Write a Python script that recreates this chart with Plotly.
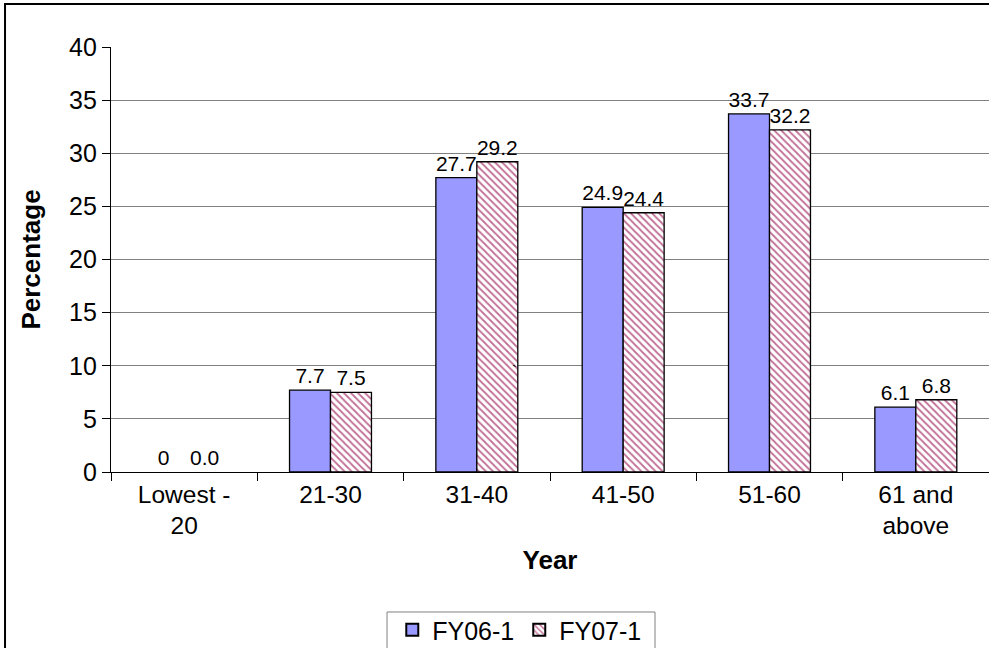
import plotly.graph_objects as go

categories = ["Lowest -<br>20", "21-30", "31-40", "41-50", "51-60", "61 and<br>above"]
fy06 = [0, 7.7, 27.7, 24.9, 33.7, 6.1]
fy07 = [0.0, 7.5, 29.2, 24.4, 32.2, 6.8]
fy06_labels = ["0", "7.7", "27.7", "24.9", "33.7", "6.1"]
fy07_labels = ["0.0", "7.5", "29.2", "24.4", "32.2", "6.8"]

FONT = "Liberation Sans, Arial, sans-serif"

fig = go.Figure()
fig.add_trace(go.Bar(
    x=categories, y=fy06, name="FY06-1",
    marker=dict(color="#9999FF",
                line=dict(color="black", width=[0 if v == 0 else 1.3 for v in fy06])),
    text=fy06_labels, textposition="outside", cliponaxis=False,
    textfont=dict(size=21, color="black", family=FONT),
))
fig.add_trace(go.Bar(
    x=categories, y=fy07, name="FY07-1",
    marker=dict(color="white",
                line=dict(color="black", width=[0 if v == 0 else 1.3 for v in fy07]),
                pattern=dict(shape="\\", fgcolor="#C06C94", bgcolor="white",
                             size=5, solidity=0.35, fillmode="replace")),
    text=fy07_labels, textposition="outside", cliponaxis=False,
    textfont=dict(size=21, color="black", family=FONT),
))

fig.update_layout(
    width=989, height=648,
    margin=dict(l=111, r=0, t=47, b=176),
    paper_bgcolor="white", plot_bgcolor="white",
    font=dict(family=FONT, size=25, color="black"),
    barmode="group", bargap=0.44, bargroupgap=0,
    showlegend=True,
    legend=dict(orientation="h", x=0.465, xanchor="center",
                yref="container", y=1 - 607 / 648, yanchor="top",
                borderwidth=0, bgcolor="rgba(0,0,0,0)", font=dict(size=25),
                itemsizing="constant", traceorder="normal"),
    xaxis=dict(
        showline=True, linecolor="black", linewidth=1.2,
        ticks="outside", ticklen=8, tickcolor="black", tickson="boundaries",
        showgrid=False, automargin=False,
        title=dict(text="<b>Year</b>", font=dict(size=26), standoff=12),
        tickfont=dict(size=24.5),
    ),
    yaxis=dict(
        range=[0, 40], dtick=5,
        showline=True, linecolor="black", linewidth=1.2,
        ticks="outside", ticklen=8, tickcolor="black",
        showgrid=True, gridcolor="#808080", gridwidth=1, automargin=False,
        title=dict(text="<b>Percentage</b>", font=dict(size=26), standoff=20),
        tickfont=dict(size=25), zeroline=False,
    ),
    shapes=[
        dict(type="rect", xref="paper", yref="paper",
             x0=-0.1207, x1=1.05, y0=-0.5, y1=1.1012,
             line=dict(color="black", width=2), fillcolor="rgba(0,0,0,0)",
             layer="below"),
        dict(type="rect", xref="paper", yref="paper",
             x0=0.3144, x1=0.6196, y0=-0.47, y1=-0.3294,
             line=dict(color="#808080", width=1), fillcolor="rgba(0,0,0,0)",
             layer="below"),
    ],
    annotations=[dict(text="`", x=2.26, y=9.6, xref="x", yref="y",
                      showarrow=False, font=dict(size=15, color="black"))],
)

fig.write_html("out.html", config={"displayModeBar": False},
               post_script="document.body.style.margin='0';document.body.style.overflow='hidden';")
